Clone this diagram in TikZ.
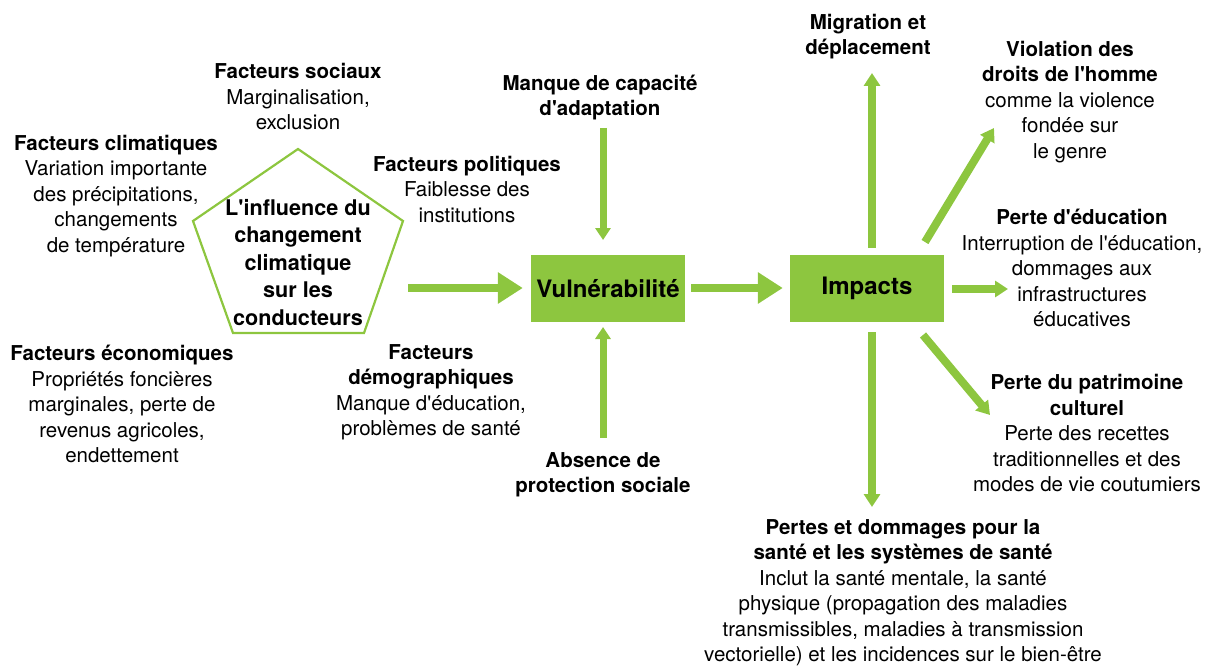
\documentclass[tikz,border=0pt]{standalone}
\usepackage{fontspec}
\setmainfont{TeX Gyre Heros}
\usetikzlibrary{arrows.meta}
\definecolor{leaf}{RGB}{141,198,63}
\newcommand{\ap}{\textquotesingle}
\tikzset{
  txt/.style={align=center, inner sep=0pt, font=\fontsize{20.5}{25.5}\selectfont},
  btxt/.style={txt, font=\bfseries\fontsize{20.5}{25.5}\selectfont},
  box/.style={fill=leaf, minimum width=154pt, minimum height=67pt, inner sep=0pt,
    font=\bfseries\fontsize{24}{28}\selectfont},
  bigarrow/.style={draw=leaf, line width=8pt, -{Triangle[width=30pt,length=25pt]}},
  thinarrow/.style={draw=leaf, line width=7pt, -{Triangle[width=15pt,length=12pt]}},
  outarrow/.style={draw=leaf, line width=8pt, -{Triangle[width=16pt,length=13pt]}},
}
\begin{document}
\begin{tikzpicture}[x=1pt,y=-1pt]
\useasboundingbox (0,0) rectangle (1205,666);

% central pentagon of drivers
\draw[leaf, line width=2.2pt, line join=miter]
  (298,149) -- (403,221) -- (364,333) -- (233,333) -- (193,221) -- cycle;
\node[txt, font=\bfseries\fontsize{21.6}{27.5}\selectfont] (pent) at (298,262.5)
  {L\ap influence du\\changement\\climatique\\sur les\\conducteurs};

% driver labels
\node[txt] (social) at (298,97) {\textbf{Facteurs sociaux}\\Marginalisation,\\exclusion};
\node[txt] (climat) at (116,196) {\textbf{Facteurs climatiques}\\Variation importante\\des précipitations,\\changements\\de température};
\node[txt] (polit) at (467,189.5) {\textbf{Facteurs politiques}\\Faiblesse des\\institutions};
\node[txt] (econ) at (122,404) {\textbf{Facteurs économiques}\\Propriétés foncières\\marginales, perte de\\revenus agricoles,\\endettement};
\node[txt] (demo) at (431,392.5) {\textbf{Facteurs}\\\textbf{démographiques}\\Manque d\ap éducation,\\problèmes de santé};

% vulnerability and impacts
\node[box] (vuln) at (608,288.5) {Vulnérabilité};
\node[box] (imp) at (867,288.5) {Impacts};

\node[btxt] (capa) at (600,97.5) {Manque de capacité\\d\ap adaptation};
\node[btxt] (prot) at (603,475) {Absence de\\protection sociale};

% impact labels
\node[btxt] (migr) at (868,36.5) {Migration et\\déplacement};
\node[txt] (droits) at (1070,102) {\textbf{Violation des}\\\textbf{droits de l\ap homme}\\comme la violence\\fondée sur\\le genre};
\node[txt] (educ) at (1082,268) {\textbf{Perte d\ap éducation}\\Interruption de l\ap éducation,\\dommages aux\\infrastructures\\éducatives};
\node[txt] (patri) at (1087,433.5) {\textbf{Perte du patrimoine}\\\textbf{culturel}\\Perte des recettes\\traditionnelles et des\\modes de vie coutumiers};
\node[txt] (sante) at (903,592.5) {\textbf{Pertes et dommages pour la}\\\textbf{santé et les systèmes de santé}\\Inclut la santé mentale, la santé\\physique (propagation des maladies\\transmissibles, maladies à transmission\\vectorielle) et les incidences sur le bien-être};

% arrow end points
\coordinate (pentout) at (408,288);
\coordinate (capatail) at (603,128);
\coordinate (capatip) at (603,240);
\coordinate (prottail) at (603,438);
\coordinate (prottip) at (603,327);
\coordinate (upfrom) at (872,248);
\coordinate (upto) at (872,73);
\coordinate (downfrom) at (872,332);
\coordinate (downto) at (872,507);
\coordinate (rightfrom) at (952,289);
\coordinate (rightto) at (1008,289);
\coordinate (nefrom) at (925,242);
\coordinate (neto) at (994,128);
\coordinate (sefrom) at (923,335);
\coordinate (seto) at (990,415);

% main flow
\draw[bigarrow, shorten >=8pt] (pentout) -- (vuln.west |- pentout);
\draw[bigarrow, shorten <=6pt, shorten >=7pt] (vuln.east |- pentout) -- (imp.west |- pentout);

\draw[thinarrow] (capatail) -- (capatip);
\draw[thinarrow] (prottail) -- (prottip);

% impacts
\draw[outarrow] (upfrom) -- (upto);
\draw[outarrow] (downfrom) -- (downto);
\draw[outarrow] (rightfrom) -- (rightto);
\draw[outarrow] (nefrom) -- (neto);
\draw[outarrow] (sefrom) -- (seto);
\end{tikzpicture}
\end{document}
